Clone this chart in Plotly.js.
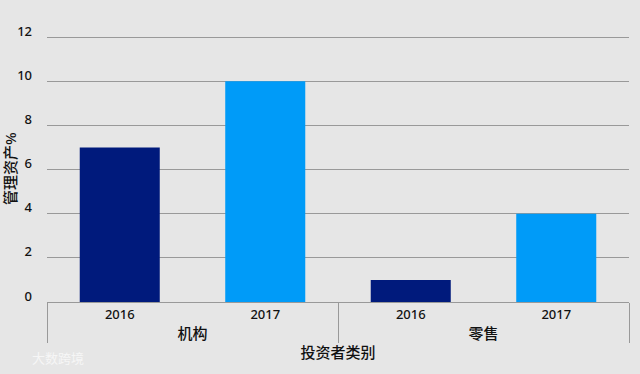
<!DOCTYPE html>
<html>
<head>
<meta charset="utf-8">
<script src="https://cdn.plot.ly/plotly-3.0.1.min.js"></script>
<style>html,body{margin:0;padding:0;background:#e6e6e6;}#chart{width:640px;height:374px;}</style>
</head>
<body>
<div id="chart"></div>
<script>
const groups = ["机构", "零售"];
const years = ["2016", "2017"];
const values2016 = [7, 1];
const values2017 = [10, 4];
const yTicks = [0, 2, 4, 6, 8, 10, 12];

const font = "Noto Sans, Noto Sans CJK SC, sans-serif";
const groupLabels = groups.map(g => '<span style="font-size:15px">' + g + '</span>');
const traces = [
  {type: "bar", x: [groupLabels, [years[0], years[0]]], y: values2016, marker: {color: "#001a7c"}, width: 0.55, name: years[0]},
  {type: "bar", x: [groupLabels, [years[1], years[1]]], y: values2017, marker: {color: "#009bf8"}, width: 0.55, name: years[1]}
];
const layout = {
  width: 640, height: 374,
  paper_bgcolor: "#e6e6e6", plot_bgcolor: "#e6e6e6",
  margin: {l: 47, r: 11, t: 35, b: 72},
  showlegend: false,
  barmode: "overlay",
  font: {family: font, size: 13, color: "#111"},
  xaxis: {
    type: "multicategory",
    showline: true, linecolor: "#999", linewidth: 1,
    showdividers: true, dividercolor: "#999", dividerwidth: 1,
    tickfont: {family: font, size: 13, color: "#111", weight: 500},
    title: {text: "投资者类别", font: {family: font, size: 15, color: "#111", weight: 500}, standoff: 5}
  },
  yaxis: {
    range: [0, 12.1],
    tickvals: yTicks,
    showgrid: true, gridcolor: "#999", gridwidth: 1,
    zeroline: false, showline: false,
    ticks: "", ticklabelstandoff: 14, ticklabelshift: -6,
    tickfont: {family: font, size: 13, color: "#111", weight: 500},
    title: {text: "管理资产%", font: {family: font, size: 15, color: "#111", weight: 500}, standoff: 0}
  },
  annotations: [
    {text: "大数跨境", xref: "paper", yref: "paper", x: -0.029, y: -0.211, xanchor: "left", yanchor: "middle", showarrow: false, font: {size: 13, color: "#f6f6f6"}}
  ]
};
Plotly.newPlot("chart", traces, layout, {displayModeBar: false});
</script>
</body>
</html>
